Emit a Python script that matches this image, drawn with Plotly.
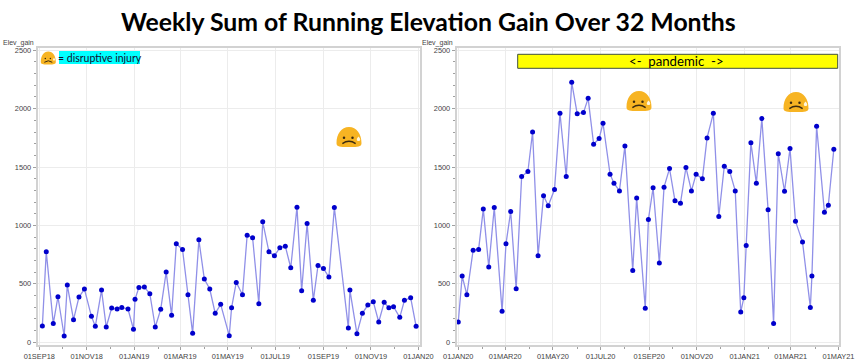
import plotly.graph_objects as go

W, H = 856, 363

title_text = "Weekly Sum of Running Elevation Gain Over 32 Months"
y_title = "Elev_gain"
injury_text = "= disruptive injury"
pandemic_text = "&lt;-  pandemic  -&gt;"

dates_2018 = ["2018-09-05","2018-09-10","2018-09-19","2018-09-25","2018-10-03","2018-10-07","2018-10-15","2018-10-22","2018-10-29",
"2018-11-07","2018-11-12","2018-11-20","2018-11-26","2018-12-03","2018-12-10","2018-12-16","2018-12-24","2018-12-31","2019-01-02",
"2019-01-07","2019-01-14","2019-01-21","2019-01-28","2019-02-04","2019-02-11","2019-02-18","2019-02-24","2019-03-04","2019-03-11",
"2019-03-17","2019-03-25","2019-04-01","2019-04-08","2019-04-15","2019-04-22","2019-05-03","2019-05-06","2019-05-12","2019-05-20",
"2019-05-26","2019-06-02","2019-06-10","2019-06-15","2019-06-23","2019-06-30","2019-07-07","2019-07-14","2019-07-21","2019-07-29",
"2019-08-04","2019-08-11","2019-08-19","2019-08-25","2019-09-01","2019-09-08","2019-09-15","2019-10-03","2019-10-05","2019-10-14",
"2019-10-21","2019-10-28","2019-11-04","2019-11-11","2019-11-18","2019-11-24","2019-11-30","2019-12-08","2019-12-14","2019-12-22","2019-12-29"]
gain_2018 = [140,775,160,390,54,490,194,387,456,222,137,447,131,293,285,299,285,111,368,470,473,416,131,282,601,231,843,795,407,77,877,541,456,248,325,57,296,513,407,917,895,330,1031,775,741,809,823,638,1157,442,1017,359,658,632,558,1154,122,447,74,248,319,348,174,342,296,305,214,359,382,137]

dates_2020 = ["2020-01-01","2020-01-06","2020-01-12","2020-01-20","2020-01-27","2020-02-02","2020-02-09","2020-02-16","2020-02-26",
"2020-03-02","2020-03-08","2020-03-15","2020-03-22","2020-03-30","2020-04-05","2020-04-12","2020-04-19","2020-04-25","2020-05-03",
"2020-05-10","2020-05-18","2020-05-25","2020-06-01","2020-06-09","2020-06-15","2020-06-22","2020-06-29","2020-07-04","2020-07-13",
"2020-07-18","2020-07-25","2020-08-01","2020-08-11","2020-08-16","2020-08-27","2020-08-31","2020-09-06","2020-09-14","2020-09-20",
"2020-09-27","2020-10-04","2020-10-11","2020-10-18","2020-10-25","2020-10-31","2020-11-08","2020-11-14","2020-11-22","2020-11-29",
"2020-12-06","2020-12-13","2020-12-20","2020-12-27","2020-12-31","2021-01-03","2021-01-09","2021-01-16","2021-01-23","2021-01-31",
"2021-02-07","2021-02-13","2021-02-21","2021-02-28","2021-03-07","2021-03-16","2021-03-26","2021-03-28","2021-04-03","2021-04-13","2021-04-18","2021-04-25"]
gain_2020 = [174,567,407,789,795,1140,644,1154,265,843,1120,459,1419,1462,1800,741,1255,1168,1308,1960,1419,2225,1957,1966,2088,1695,1744,1875,1439,1362,1296,1681,615,1236,291,1051,1322,678,1328,1487,1211,1191,1496,1296,1439,1399,1749,1960,1077,1507,1462,1296,259,382,829,1709,1362,1915,1134,162,1613,1293,1658,1037,858,299,567,1849,1114,1174,1652]

ticks_left = ["2018-09-01","2018-11-01","2019-01-01","2019-03-01","2019-05-01","2019-07-01","2019-09-01","2019-11-01","2020-01-01"]
labels_left = ["01SEP18","01NOV18","01JAN19","01MAR19","01MAY19","01JUL19","01SEP19","01NOV19","01JAN20"]
ticks_right = ["2020-01-01","2020-03-01","2020-05-01","2020-07-01","2020-09-01","2020-11-01","2021-01-01","2021-03-01","2021-05-01"]
labels_right = ["01JAN20","01MAR20","01MAY20","01JUL20","01SEP20","01NOV20","01JAN21","01MAR21","01MAY21"]
y_ticks = [0, 500, 1000, 1500, 2000, 2500]

LINE, MARK = "#9090e8", "#0000cc"
GRID, FRAME, TICK, TEXT = "#ececec", "#d2d2d2", "#a0a0a0", "#444444"
px_x = lambda p: p / W
px_y = lambda p: 1 - p / H

fig = go.Figure()
for dates, vals, xa, ya in [(dates_2018, gain_2018, "x", "y"), (dates_2020, gain_2020, "x2", "y2")]:
    fig.add_trace(go.Scatter(x=dates, y=vals, xaxis=xa, yaxis=ya, mode="lines+markers",
                             line=dict(color=LINE, width=1.3),
                             marker=dict(color=MARK, size=5), showlegend=False, cliponaxis=False))

def xaxis(dom, rng, vals, labels):
    return dict(domain=[px_x(dom[0]), px_x(dom[1])], range=rng, type="date",
                tickmode="array", tickvals=vals, ticktext=labels, ticks="outside", ticklen=3,
                tickcolor=TICK, tickfont=dict(family="Liberation Sans", size=7.4, color=TEXT),
                showgrid=True, gridcolor=GRID, gridwidth=1, showline=True, mirror=True,
                linecolor=FRAME, linewidth=2, zeroline=False, automargin=False,
                minor=dict(ticks="outside", ticklen=2, tickcolor=TICK, dtick="M1", tick0=vals[0], showgrid=False))

def yaxis(anchor):
    return dict(domain=[px_y(345), px_y(48)], range=[-23, 2519], anchor=anchor,
                tickmode="array", tickvals=y_ticks, ticks="outside", ticklen=3, tickcolor=TICK,
                tickfont=dict(family="Liberation Sans", size=7.4, color=TEXT),
                showgrid=True, gridcolor=GRID, gridwidth=1, showline=True, mirror=True,
                linecolor=FRAME, linewidth=2, zeroline=False, automargin=False,
                minor=dict(ticks="outside", ticklen=2, tickcolor=TICK, dtick=100, tick0=0, showgrid=False))

shapes, annos = [], []

def emoji(cx, cy, w, h):
    X = lambda u: px_x(cx + u * w / 2)
    Y = lambda v: px_y(cy + v * h / 2)
    def P(cmds):
        out = []
        for c in cmds:
            if isinstance(c, str):
                out.append(c)
            else:
                out.append(f"{X(c[0]):.5f},{Y(c[1]):.5f}")
        return " ".join(out)
    blob = P(["M", (-1, .62), "C", (-1, -.3), (-.62, -1), (0, -1), "C", (.62, -1), (1, -.3), (1, .62),
              "C", (1, 1.02), (.6, 1), (0, 1), "C", (-.6, 1), (-1, 1.02), (-1, .62), "Z"])
    shapes.append(dict(type="path", path=blob, xref="paper", yref="paper", fillcolor="#f7b423", line_width=0))
    for ex in (-.4, .28):
        shapes.append(dict(type="circle", xref="paper", yref="paper", x0=X(ex - .1), x1=X(ex + .1),
                           y0=Y(.07 - .12), y1=Y(.07 + .12), fillcolor="#3a2a10", line_width=0))
    mouth = P(["M", (-.53, .66), "Q", (0, .2), (.53, .66)])
    shapes.append(dict(type="path", path=mouth, xref="paper", yref="paper",
                       line=dict(color="#3a2a10", width=max(1, w / 18))))
    tear = P(["M", (.76, -.05), "C", (.96, .2), (.92, .4), (.76, .4), "C", (.6, .4), (.56, .2), (.76, -.05), "Z"])
    shapes.append(dict(type="path", path=tear, xref="paper", yref="paper", fillcolor="#fff6df", line_width=0))

for c in [(48.3, 58, 15, 13), (349, 137, 25, 20), (639, 101, 25, 20), (796, 102, 25, 20)]:
    emoji(*c)

shapes.append(dict(type="rect", xref="paper", yref="paper", x0=px_x(59), x1=px_x(140), y0=px_y(51), y1=px_y(64),
                   fillcolor="#00ffff", line_width=0))
shapes.append(dict(type="rect", xref="paper", yref="paper", x0=px_x(517.7), x1=px_x(837.7), y0=px_y(54.3), y1=px_y(68.3),
                   fillcolor="#ffff00", line=dict(color="#3f4f3f", width=1)))

def text(s, x, y, font, size, color, bold=False, anchor="center"):
    annos.append(dict(text=f"<b>{s}</b>" if bold else s, x=px_x(x), y=px_y(y), xref="paper", yref="paper",
                      xanchor=anchor, yanchor="middle", showarrow=False,
                      font=dict(family=font, size=size, color=color), borderpad=0, borderwidth=0))

text(title_text, 429, 22, "Lato", 24.8, "#000000", bold=True)
text(injury_text, 99.5, 57.5, "Lato", 10.5, "#101030")
text(pandemic_text, 676, 61, "Lato", 13.2, "#000000")
text(y_title, 3, 42.5, "Liberation Sans", 7, TEXT, anchor="left")
text(y_title, 422, 42.5, "Liberation Sans", 7, TEXT, anchor="left")

fig.update_layout(
    width=W, height=H, margin=dict(l=0, r=0, t=0, b=0, pad=0, autoexpand=False), autosize=False,
    paper_bgcolor="white", plot_bgcolor="white",
    xaxis=xaxis((37.7, 420), ["2018-08-30", "2020-01-03"], ticks_left, labels_left),
    yaxis=yaxis("x"),
    xaxis2=dict(xaxis((456.7, 839.3), ["2019-12-30", "2021-05-02"], ticks_right, labels_right), anchor="y2"),
    yaxis2=yaxis("x2"),
    shapes=shapes, annotations=annos,
)
fig.write_html("out.html", config={"displayModeBar": False},
               post_script="document.body.style.margin='0';document.body.style.overflow='hidden';")
